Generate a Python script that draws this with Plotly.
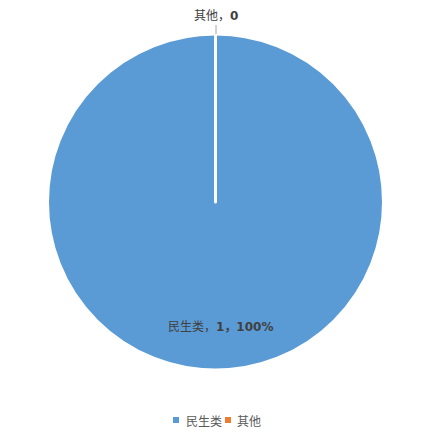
import plotly.graph_objects as go

labels = ["民生类", "其他"]
values = [1, 0]
colors = ["#5B9BD5", "#ED7D31"]

total = sum(values)
pcts = [round(v / total * 100) for v in values]

W, H = 436, 434
cx, cy, r = 215.5, 202, 168


def px(x):
    return x / W


def py(y):
    return (H - y) / H


fig = go.Figure()
fig.add_trace(go.Pie(
    labels=labels, values=values, sort=False, direction="clockwise", rotation=0,
    marker=dict(colors=colors, line=dict(color="#FFFFFF", width=3)),
    textinfo="none", hoverinfo="label+value+percent",
    domain=dict(x=[(cx - r) / W, (cx + r) / W], y=[(H - cy - r) / H, (H - cy + r) / H]),
    showlegend=False,
))

font = dict(family="DejaVu Sans, Noto Sans CJK SC", size=12, color="#404040")
# inside label for main slice
fig.add_annotation(
    x=px(220), y=py(327), xref="paper", yref="paper", showarrow=False,
    xanchor="center", yanchor="middle",
    text=f"{labels[0]}，<b>{values[0]}，{pcts[0]}%</b>", font=font,
)
# outside label for zero slice
fig.add_annotation(
    x=px(216), y=py(16), xref="paper", yref="paper", showarrow=False,
    xanchor="center", yanchor="middle",
    text=f"{labels[1]}，<b>{values[1]}</b>", font=font,
)
fig.add_shape(type="line", xref="paper", yref="paper",
              x0=px(216), x1=px(216), y0=py(34), y1=py(25),
              line=dict(color="#A6A6A6", width=1))

# legend (drawn as small squares + text)
leg_font = dict(family="Noto Sans CJK SC", size=12, color="#595959")
leg_sq_x = [173, 225]
leg_txt_x = [184, 235]
for i, lab in enumerate(labels):
    fig.add_shape(type="rect", xref="paper", yref="paper",
                  x0=px(leg_sq_x[i]), x1=px(leg_sq_x[i] + 6), y0=py(423), y1=py(417),
                  fillcolor=colors[i], line=dict(width=0))
    fig.add_annotation(x=px(leg_txt_x[i]), y=py(420), xref="paper", yref="paper",
                       xanchor="left", yanchor="middle", showarrow=False,
                       text=lab, font=leg_font)

fig.update_layout(
    width=W, height=H, margin=dict(l=0, r=0, t=0, b=0),
    paper_bgcolor="white", plot_bgcolor="white",
    showlegend=False,
)
fig.write_html("out.html", config={"displayModeBar": False},
               post_script="document.body.style.margin='0';document.body.style.overflow='hidden';")
